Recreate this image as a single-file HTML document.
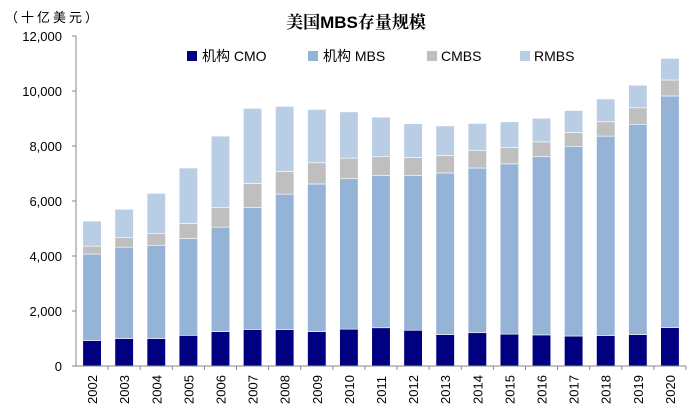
<!DOCTYPE html>
<html><head><meta charset="utf-8"><style>
body{margin:0;background:#fff;}
svg{display:block;font-family:"Liberation Sans","Noto Sans CJK SC",sans-serif;}
</style></head><body>
<svg id="chart" width="700" height="420">
<text x="5" y="22" font-size="13" letter-spacing="3" fill="#000">（十亿美元）</text>
<text x="356" y="28" font-size="17" font-weight="bold" text-anchor="middle" font-family="'Liberation Sans','Noto Serif CJK SC',serif">美国MBS存量规模</text>
<g id="legend">
<g><rect x="187" y="51" width="10" height="10" fill="#000080"/><text x="202" y="61" font-size="14">机构 CMO</text></g>
<g><rect x="308" y="51" width="10" height="10" fill="#95b3d7"/><text x="323" y="61" font-size="14">机构 MBS</text></g>
<g><rect x="427" y="51" width="10" height="10" fill="#bfbfbf"/><text x="441" y="61" font-size="14">CMBS</text></g>
<g><rect x="520" y="51" width="10" height="10" fill="#b9cde5"/><text x="534" y="61" font-size="14">RMBS</text></g>
</g>
<g id="bars"></g>
<g id="axes"></g>
</svg>
<script>
const years=["2002","2003","2004","2005","2006","2007","2008","2009","2010","2011","2012","2013","2014","2015","2016","2017","2018","2019","2020"];
const cmo=[920,1000,1000,1115,1250,1330,1320,1250,1340,1390,1300,1140,1210,1160,1130,1090,1110,1140,1400];
const mbs=[3150,3320,3390,3525,3800,4440,4930,5370,5470,5530,5620,5880,5990,6190,6480,6900,7250,7650,8420];
const cmbs=[290,360,420,540,720,870,820,770,750,690,660,630,630,590,540,500,520,600,580];
const rmbs=[910,1020,1470,2020,2590,2730,2370,1940,1680,1440,1230,1080,990,940,860,800,830,820,790];
const yTicks=[0,2000,4000,6000,8000,10000,12000];
const yTickLabels=["0","2,000","4,000","6,000","8,000","10,000","12,000"];
const X0=76,X1=686,Y0=366,Y1=36,YMAX=12000;
const band=(X1-X0)/years.length,bw=18.5;
const y=v=>Y0-(v/YMAX)*(Y0-Y1);
const xc=i=>X0+band*(i+0.5);
const NS="http://www.w3.org/2000/svg";
const bars=document.getElementById('bars'),axes=document.getElementById('axes');
const series=[[cmo,"#000080","cmo"],[mbs,"#95b3d7","mbs"],[cmbs,"#bfbfbf","cmbs"],[rmbs,"#b9cde5","rmbs"]];
years.forEach((yr,i)=>{
  let base=0;
  series.forEach(([arr,col,nm])=>{
    const v=arr[i];
    const r=document.createElementNS(NS,'rect');
    r.setAttribute('x',xc(i)-bw/2);r.setAttribute('y',y(base+v));
    r.setAttribute('width',bw);r.setAttribute('height',y(base)-y(base+v));
    r.setAttribute('fill',col);r.setAttribute('stroke','#fff');r.setAttribute('stroke-width','0.6');
    
    
    bars.appendChild(r);base+=v;
  });
  const t=document.createElementNS(NS,'text');
  t.setAttribute('transform','translate('+(xc(i)+5)+',404) rotate(-90)');
  t.setAttribute('font-size','13');t.textContent=yr;
  
  
  axes.appendChild(t);
  const tk=document.createElementNS(NS,'line');
  tk.setAttribute('x1',X0+band*(i+1));tk.setAttribute('x2',X0+band*(i+1));
  tk.setAttribute('y1',Y0);tk.setAttribute('y2',Y0+4);tk.setAttribute('stroke','#888');
  
  
  axes.appendChild(tk);
});
yTicks.forEach((v,k)=>{
  const t=document.createElementNS(NS,'text');
  t.setAttribute('x',62);t.setAttribute('y',y(v)+5);t.setAttribute('text-anchor','end');
  t.setAttribute('font-size','13');t.textContent=yTickLabels[k];
  
  
  axes.appendChild(t);
  const tk=document.createElementNS(NS,'line');
  tk.setAttribute('x1',X0-4);tk.setAttribute('x2',X0);tk.setAttribute('y1',y(v));tk.setAttribute('y2',y(v));
  tk.setAttribute('stroke','#888');
  
  
  axes.appendChild(tk);
});
const ya=document.createElementNS(NS,'line');
ya.setAttribute('x1',X0);ya.setAttribute('x2',X0);ya.setAttribute('y1',Y1);ya.setAttribute('y2',Y0);ya.setAttribute('stroke','#888');


axes.appendChild(ya);
const xa=document.createElementNS(NS,'line');
xa.setAttribute('x1',X0);xa.setAttribute('x2',X1);xa.setAttribute('y1',Y0);xa.setAttribute('y2',Y0);xa.setAttribute('stroke','#888');


axes.appendChild(xa);
</script>
</body></html>
